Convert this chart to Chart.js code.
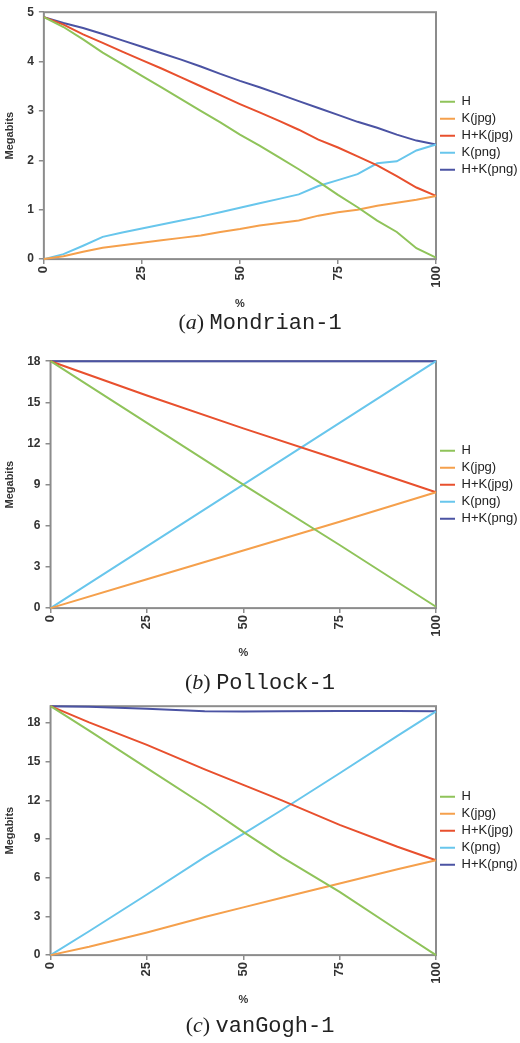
<!DOCTYPE html>
<html>
<head>
<meta charset="utf-8">
<script src="https://cdn.jsdelivr.net/npm/chart.js@4.4.0/dist/chart.umd.min.js"></script>
<style>
  html, body { margin: 0; padding: 0; background: #fff; }
  body { width: 520px; height: 1043px; position: relative; overflow: hidden; }
  .panel { position: absolute; left: 0; width: 520px; }
  .caption { position: absolute; left: 0; width: 520px; text-align: center; font-size: 22px; line-height: 24px; color: #222; }
  .caption i { font-family: "Liberation Serif", serif; }
  .caption span { font-family: "Liberation Mono", monospace; }
</style>
</head>
<body>
<div class="panel" style="top:0;height:315px"><canvas id="chartA"></canvas></div>
<div class="caption" style="top:310px">(<i>a</i>) <span>Mondrian-1</span></div>
<div class="panel" style="top:349px;height:315px"><canvas id="chartB"></canvas></div>
<div class="caption" style="top:670px">(<i>b</i>) <span>Pollock-1</span></div>
<div class="panel" style="top:694px;height:317px"><canvas id="chartC"></canvas></div>
<div class="caption" style="top:1013px">(<i>c</i>) <span>vanGogh-1</span></div>
<script>
// series names + colours shared by all three panels
const seriesNames = ['H', 'K(jpg)', 'H+K(jpg)', 'K(png)', 'H+K(png)']
const seriesColors = ['#8fc35a', '#f5a04c', '#e8502e', '#68c6ec', '#4b53a3']

// (a) Mondrian-1
const pctA = [0, 5, 10, 15, 20, 25, 30, 35, 40, 45, 50, 55, 60, 65, 70, 75, 80, 85, 90, 95, 100]
const mondrianH = [4.90, 4.70, 4.45, 4.18, 3.95, 3.71, 3.48, 3.24, 3.00, 2.77, 2.52, 2.30, 2.06, 1.82, 1.57, 1.30, 1.05, 0.78, 0.55, 0.22, 0.03]
const mondrianKjpg = [0, 0.06, 0.15, 0.23, 0.28, 0.33, 0.38, 0.43, 0.48, 0.55, 0.61, 0.68, 0.73, 0.78, 0.88, 0.95, 1.00, 1.08, 1.14, 1.20, 1.28]
const mondrianHKjpg = [4.90, 4.75, 4.55, 4.38, 4.20, 4.03, 3.86, 3.68, 3.50, 3.32, 3.14, 2.97, 2.80, 2.62, 2.42, 2.26, 2.08, 1.90, 1.68, 1.45, 1.28]
const mondrianKpng = [0, 0.10, 0.27, 0.45, 0.54, 0.62, 0.70, 0.78, 0.86, 0.95, 1.04, 1.13, 1.22, 1.31, 1.48, 1.60, 1.72, 1.94, 1.98, 2.20, 2.32]
const mondrianHKpng = [4.90, 4.78, 4.68, 4.56, 4.43, 4.30, 4.17, 4.04, 3.90, 3.75, 3.61, 3.48, 3.34, 3.20, 3.06, 2.92, 2.78, 2.66, 2.52, 2.40, 2.32]

// (b) Pollock-1
const pctB = [0, 25, 50, 75, 100]
const pollockH = [18, 13.5, 9.0, 4.6, 0.1]
const pollockKjpg = [0, 2.1, 4.2, 6.3, 8.45]
const pollockHKjpg = [18, 15.5, 13.1, 10.8, 8.45]
const pollockKpng = [0, 4.5, 9.0, 13.5, 18]
const pollockHKpng = [18, 18, 18, 18, 18]

// (c) vanGogh-1
const pctC = [0, 10, 25, 40, 50, 60, 75, 90, 100]
const vanGoghH = [19.3, 17.4, 14.5, 11.6, 9.55, 7.6, 4.9, 1.95, 0]
const vanGoghKjpg = [0, 0.65, 1.75, 2.95, 3.7, 4.45, 5.55, 6.65, 7.35]
const vanGoghHKjpg = [19.3, 18.05, 16.3, 14.4, 13.2, 12.0, 10.1, 8.4, 7.35]
const vanGoghKpng = [0, 1.85, 4.7, 7.6, 9.4, 11.25, 14.1, 17.0, 18.9]
const vanGoghHKpng = [19.3, 19.25, 19.1, 18.9, 18.88, 18.9, 18.92, 18.93, 18.9]

const fontFam = '"Liberation Sans", Arial, sans-serif'
const axisGray = '#8c8c8c'
const legendWidth = 84

// grey box round the plot area
const framePlugin = {
  id: 'frame',
  beforeDatasetsDraw(chart) {
    const a = chart.chartArea
    const ctx = chart.ctx
    ctx.save()
    ctx.strokeStyle = axisGray
    ctx.lineWidth = 2
    ctx.strokeRect(a.left, a.top, a.right - a.left, a.bottom - a.top)
    ctx.restore()
  }
}

// legend box is a bit too wide by default, pin it
const legendFitPlugin = {
  id: 'legendFit',
  beforeLayout(chart) {
    const lg = chart.legend
    if (lg && !lg._pinned) {
      const fit = lg.fit.bind(lg)
      lg.fit = function () { fit(); this.width = legendWidth }
      lg._pinned = true
    }
  }
}

function makeChart(id, xs, series, yMax, yStep) {
  const datasets = series.map((vals, i) => ({
    label: seriesNames[i],
    data: xs.map((x, j) => ({x: x, y: vals[j]})),
    borderColor: seriesColors[i],
    backgroundColor: seriesColors[i],
    borderWidth: 2,
    pointRadius: 0,
    tension: 0,
    clip: 4
  }))

  new Chart(document.getElementById(id), {
    type: 'line',
    data: {datasets: datasets},
    plugins: [framePlugin, legendFitPlugin],
    options: {
      responsive: true,
      maintainAspectRatio: false,
      animation: false,
      layout: {padding: {left: 1, top: 6, right: 0, bottom: 2}},
      plugins: {
        tooltip: {enabled: false},
        legend: {
          position: 'right',
          fullSize: false,
          labels: {
            usePointStyle: true,
            pointStyle: 'line',
            pointStyleWidth: 15,
            boxHeight: 13,
            padding: 4,
            color: '#222',
            font: {family: fontFam, size: 13}
          }
        }
      },
      scales: {
        x: {
          type: 'linear', min: 0, max: 100,
          border: {display: false},
          grid: {drawOnChartArea: false, tickLength: 5, color: axisGray, lineWidth: 1.5},
          ticks: {stepSize: 25, minRotation: 90, maxRotation: 90, padding: 2, color: '#333',
            font: {family: fontFam, size: 13, weight: 'bold'}},
          title: {display: true, text: '%', color: '#333', padding: {top: 8, bottom: 2},
            font: {family: fontFam, size: 11, weight: 'bold'}}
        },
        y: {
          min: 0, max: yMax,
          border: {display: false},
          grid: {drawOnChartArea: false, tickLength: 5, color: axisGray, lineWidth: 1.5},
          ticks: {stepSize: yStep, includeBounds: false, padding: 5, color: '#333',
            font: {family: fontFam, size: 12, weight: 'bold'}},
          title: {display: true, text: 'Megabits', color: '#333', padding: {top: 2, bottom: 6},
            font: {family: fontFam, size: 11, weight: 'bold'}}
        }
      }
    }
  })
}

makeChart('chartA', pctA, [mondrianH, mondrianKjpg, mondrianHKjpg, mondrianKpng, mondrianHKpng], 5, 1)
makeChart('chartB', pctB, [pollockH, pollockKjpg, pollockHKjpg, pollockKpng, pollockHKpng], 18, 3)
makeChart('chartC', pctC, [vanGoghH, vanGoghKjpg, vanGoghHKjpg, vanGoghKpng, vanGoghHKpng], 19.3, 3)
</script>
</body>
</html>
